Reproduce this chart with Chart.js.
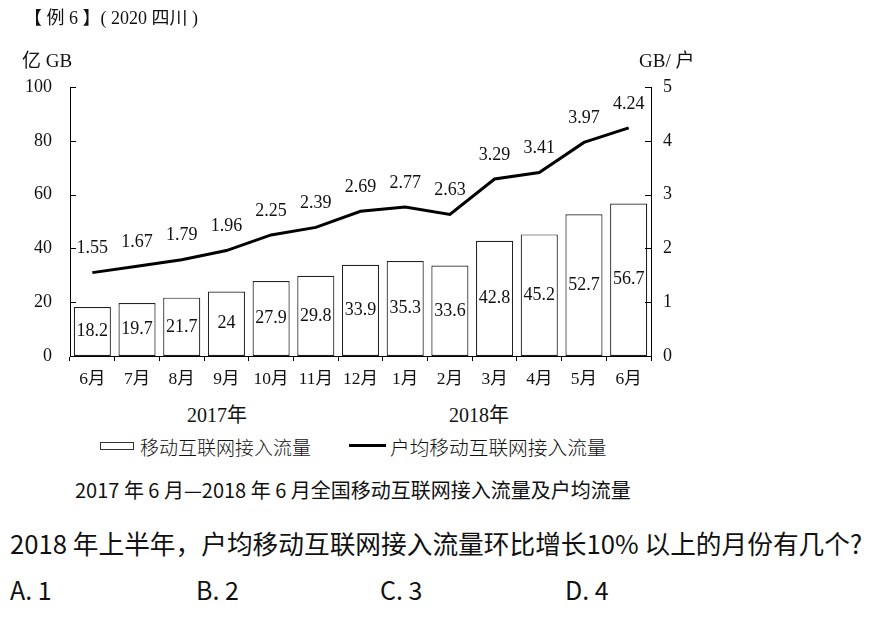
<!DOCTYPE html>
<html>
<head>
<meta charset="utf-8">
<script src="https://cdn.jsdelivr.net/npm/chart.js@4/dist/chart.umd.min.js"></script>
<style>
  body { margin: 0; background: #fff; width: 886px; height: 626px; position: relative; overflow: hidden; }
  #wrap { position: absolute; left: 0; top: 0; width: 886px; height: 400px; }
  .t { position: absolute; white-space: nowrap; color: #111; line-height: 1; }
  .serif { font-family: "Liberation Serif", "Noto Sans CJK SC", serif; }
  .sans { font-family: "Noto Sans CJK SC", "Noto Sans", sans-serif; }
</style>
</head>
<body>
<div id="wrap"><canvas id="chart" width="886" height="400"></canvas></div>

<div class="t serif" style="left:24px; top:9px; font-size:18px;">【 例 6 】( 2020 四川 )</div>
<div class="t serif" style="left:22px; top:51px; font-size:19px;">亿 GB</div>
<div class="t serif" style="left:639px; top:51px; font-size:19px;">GB/ 户</div>

<div class="t serif" style="left:187px; top:405px; font-size:20px;">2017年</div>
<div class="t serif" style="left:449px; top:405px; font-size:20px;">2018年</div>

<div class="t" style="left:100px; top:442px; width:32px; height:6px; border:1px solid #333;"></div>
<div class="t sans" style="left:140px; top:437px; font-size:19px; font-weight:300;">移动互联网接入流量</div>
<div class="t" style="left:349px; top:444px; width:37px; height:3px; background:#000;"></div>
<div class="t sans" style="left:390px; top:437px; font-size:19.7px; font-weight:300;">户均移动互联网接入流量</div>

<div class="t sans" style="left:75px; top:480px; font-size:20px; font-weight:400;">2017 年 6 月—2018 年 6 月全国移动互联网接入流量及户均流量</div>

<div class="t sans" style="left:10px; top:530px; font-size:25.7px;">2018 年上半年，户均移动互联网接入流量环比增长10% 以上的月份有几个?</div>
<div class="t sans" style="left:10px; top:577px; font-size:25px;">A. 1</div>
<div class="t sans" style="left:196px; top:577px; font-size:25px;">B. 2</div>
<div class="t sans" style="left:380px; top:577px; font-size:25px;">C. 3</div>
<div class="t sans" style="left:565px; top:577px; font-size:25px;">D. 4</div>

<script>
const months = ["6月", "7月", "8月", "9月", "10月", "11月", "12月", "1月", "2月", "3月", "4月", "5月", "6月"];
const trafficTotal = [18.2, 19.7, 21.7, 24, 27.9, 29.8, 33.9, 35.3, 33.6, 42.8, 45.2, 52.7, 56.7];
const trafficPerHousehold = [1.55, 1.67, 1.79, 1.96, 2.25, 2.39, 2.69, 2.77, 2.63, 3.29, 3.41, 3.97, 4.24];
const leftTicks = [0, 20, 40, 60, 80, 100];
const rightTicks = [0, 1, 2, 3, 4, 5];

const serifFont = { family: '"Liberation Serif", "Noto Sans CJK SC", serif', size: 18 };

// inward tick marks on both y axes
const innerTicks = {
    id: 'innerTicks',
    afterDraw(chart) {
        const ctx = chart.ctx;
        const area = chart.chartArea;
        ctx.save();
        ctx.strokeStyle = '#000';
        ctx.lineWidth = 1;
        ctx.beginPath();
        leftTicks.forEach(v => {
            const y = Math.round(chart.scales.y.getPixelForValue(v)) + 0.5;
            ctx.moveTo(area.left, y);
            ctx.lineTo(area.left + 6, y);
        });
        rightTicks.forEach(v => {
            const y = Math.round(chart.scales.y1.getPixelForValue(v)) + 0.5;
            ctx.moveTo(area.right, y);
            ctx.lineTo(area.right - 6, y);
        });
        ctx.stroke();
        ctx.restore();
    }
};

// value labels: inside bars (middle) and above line points
const valueLabels = {
    id: 'valueLabels',
    afterDatasetsDraw(chart) {
        const ctx = chart.ctx;
        ctx.save();
        ctx.font = serifFont.size + 'px ' + serifFont.family;
        ctx.fillStyle = '#111';
        ctx.textAlign = 'center';
        ctx.textBaseline = 'middle';
        chart.getDatasetMeta(0).data.forEach((bar, i) => {
            ctx.fillText(String(trafficTotal[i]), bar.x, (bar.y + bar.base) / 2);
        });
        chart.getDatasetMeta(1).data.forEach((pt, i) => {
            ctx.fillText(trafficPerHousehold[i].toFixed(2), pt.x, pt.y - 24);
        });
        ctx.restore();
    }
};

new Chart(document.getElementById('chart'), {
    data: {
        labels: months,
        datasets: [
            {
                type: 'bar',
                label: '移动互联网接入流量',
                data: trafficTotal,
                yAxisID: 'y',
                backgroundColor: '#fff',
                borderColor: '#222',
                borderWidth: 1.2,
                borderSkipped: false,
                categoryPercentage: 1,
                barPercentage: 0.83,
                order: 2
            },
            {
                type: 'line',
                label: '户均移动互联网接入流量',
                data: trafficPerHousehold,
                yAxisID: 'y1',
                borderColor: '#000',
                borderWidth: 3,
                pointRadius: 0,
                tension: 0,
                fill: false,
                order: 1
            }
        ]
    },
    options: {
        responsive: false,
        animation: false,
        events: [],
        layout: { padding: { top: 87, left: 0, right: 0, bottom: 0 } },
        plugins: {
            legend: { display: false },
            tooltip: { enabled: false }
        },
        scales: {
            x: {
                offset: true,
                grid: { display: true, offset: true, drawOnChartArea: false, drawTicks: true, tickLength: 5, color: '#000' },
                border: { display: true, color: '#000', width: 1 },
                ticks: { color: '#111', font: { family: serifFont.family, size: 17.5 }, padding: 8, maxRotation: 0, autoSkip: false },
                afterFit(scale) { scale.height = 44; }
            },
            y: {
                position: 'left',
                min: 0,
                max: 100,
                afterBuildTicks(scale) { scale.ticks = leftTicks.map(v => ({ value: v })); },
                grid: { display: false, drawTicks: false },
                border: { display: true, color: '#000', width: 1 },
                ticks: { color: '#111', font: serifFont, padding: 18 },
                afterFit(scale) { scale.width = 70; }
            },
            y1: {
                position: 'right',
                min: 0,
                max: 5,
                afterBuildTicks(scale) { scale.ticks = rightTicks.map(v => ({ value: v })); },
                grid: { display: false, drawTicks: false },
                border: { display: true, color: '#000', width: 1 },
                ticks: { color: '#111', font: serifFont, padding: 12 },
                afterFit(scale) { scale.width = 235; }
            }
        }
    },
    plugins: [innerTicks, valueLabels]
});
</script>
</body>
</html>
